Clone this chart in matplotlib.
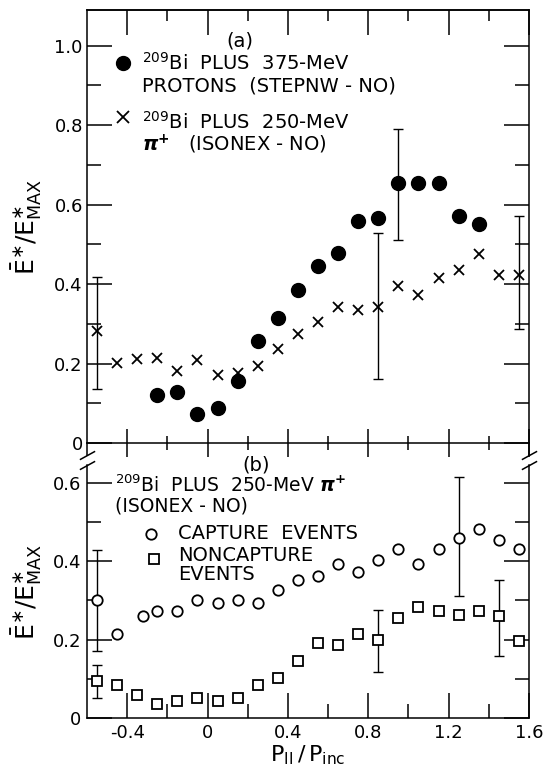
import matplotlib.pyplot as plt
import numpy as np

# ---- panel (a): 209Bi + 375-MeV protons and 250-MeV pi+ ----
x_p = [-0.25, -0.15, -0.05, 0.05, 0.15, 0.25, 0.35, 0.45, 0.55, 0.65,
       0.75, 0.85, 0.95, 1.05, 1.15, 1.25, 1.35]
y_p = [0.121, 0.128, 0.072, 0.087, 0.157, 0.257, 0.315, 0.386, 0.445, 0.479,
       0.558, 0.566, 0.655, 0.655, 0.655, 0.572, 0.552]

x_pi = [-0.55, -0.45, -0.35, -0.25, -0.15, -0.05, 0.05, 0.15, 0.25, 0.35, 0.45,
        0.55, 0.65, 0.75, 0.85, 0.95, 1.05, 1.15, 1.25, 1.35, 1.45, 1.55]
y_pi = [0.281, 0.202, 0.212, 0.214, 0.180, 0.210, 0.172, 0.175, 0.195, 0.237,
        0.274, 0.305, 0.343, 0.335, 0.342, 0.394, 0.373, 0.415, 0.436, 0.475,
        0.424, 0.424]

p_err_x = [0.95]
p_err_lo = [0.510]
p_err_hi = [0.790]
pi_err_x = [-0.55, 0.85, 1.55]
pi_err_lo = [0.137, 0.161, 0.286]
pi_err_hi = [0.418, 0.528, 0.571]

# ---- panel (b): capture / noncapture events ----
x_cap = [-0.55, -0.45, -0.32, -0.25, -0.15, -0.05, 0.05, 0.15, 0.25, 0.35, 0.45,
         0.55, 0.65, 0.75, 0.85, 0.95, 1.05, 1.15, 1.25, 1.35, 1.45, 1.55]
y_cap = [0.302, 0.214, 0.260, 0.272, 0.272, 0.300, 0.292, 0.302, 0.293, 0.327,
         0.351, 0.361, 0.392, 0.372, 0.402, 0.431, 0.392, 0.431, 0.460, 0.483,
         0.453, 0.430]

x_nc = [-0.55, -0.45, -0.35, -0.25, -0.15, -0.05, 0.05, 0.15, 0.25, 0.35, 0.45,
        0.55, 0.65, 0.75, 0.85, 0.95, 1.05, 1.15, 1.25, 1.35, 1.45, 1.55]
y_nc = [0.093, 0.085, 0.059, 0.036, 0.044, 0.052, 0.044, 0.052, 0.085, 0.103,
        0.145, 0.192, 0.186, 0.214, 0.200, 0.254, 0.283, 0.273, 0.262, 0.272,
        0.260, 0.195]

cap_err_x = [-0.55, 1.25]
cap_err_lo = [0.172, 0.312]
cap_err_hi = [0.429, 0.614]
nc_err_x = [-0.55, 0.85, 1.45]
nc_err_lo = [0.051, 0.116, 0.158]
nc_err_hi = [0.134, 0.275, 0.351]

# ---- axes ticks ----
x_major = [-0.4, 0.0, 0.4, 0.8, 1.2, 1.6]
x_minor = [-0.2, 0.2, 0.6, 1.0, 1.4]
x_labels = ['-0.4', '0', '0.4', '0.8', '1.2', '1.6']
ya_major = [0.0, 0.2, 0.4, 0.6, 0.8, 1.0]
ya_minor = [0.1, 0.3, 0.5, 0.7, 0.9]
ya_labels = ['0', '0.2', '0.4', '0.6', '0.8', '1.0']
yb_major = [0.0, 0.2, 0.4, 0.6]
yb_minor = [0.1, 0.3, 0.5]
yb_labels = ['0', '0.2', '0.4', '0.6']

YLABEL = r'$\bar{\mathrm{E}}^{\ast}/\mathrm{E}^{\ast}_{\mathrm{MAX}}$'
LW = 1.1
TXT = 14


def add_errbars(ax, xs, ys, ex, lo, hi):
    """vertical error bars centred on the series points at positions ex"""
    xs = np.asarray(xs)
    ys = np.asarray(ys)
    yc = np.array([ys[np.isclose(xs, v)][0] for v in ex])
    ax.errorbar(ex, yc, yerr=[yc - np.asarray(lo), np.asarray(hi) - yc],
                fmt='none', ecolor='k', elinewidth=1.0, capsize=3.5,
                capthick=1.0, zorder=2)


def slash(ax, x, y):
    ax.plot([x], [y], marker=[(-1, -0.55), (1, 0.55)], markersize=11,
            color='k', mec='k', mew=1.1, linestyle='none',
            transform=ax.get_yaxis_transform(), clip_on=False)


fig = plt.figure(figsize=(5.45, 7.66), dpi=100)
ax_a = fig.add_axes([0.1596, 0.4217, 0.811, 0.5653])
ax_b = fig.add_axes([0.1596, 0.0627, 0.811, 0.3303])

# panel (a)
add_errbars(ax_a, x_p, y_p, p_err_x, p_err_lo, p_err_hi)
add_errbars(ax_a, x_pi, y_pi, pi_err_x, pi_err_lo, pi_err_hi)
ax_a.plot(x_pi, y_pi, 'x', color='k', ms=7, mew=1.3, zorder=3)
ax_a.plot(x_p, y_p, 'o', color='k', ms=10, zorder=4)

ax_a.set_xlim(-0.6, 1.6)
ax_a.set_ylim(0, 1.09)
ax_a.set_xticks(x_major)
ax_a.set_xticks(x_minor, minor=True)
ax_a.set_yticks(ya_major, labels=ya_labels)
ax_a.set_yticks(ya_minor, minor=True)
ax_a.tick_params(axis='y', which='both', direction='in', left=True,
                 right=True, width=LW, labelsize=13, pad=3)
ax_a.tick_params(axis='y', which='major', length=18)
ax_a.tick_params(axis='y', which='minor', length=10)
ax_a.tick_params(axis='x', which='both', direction='inout', bottom=True,
                 top=False, labelbottom=False, width=LW)
ax_a.tick_params(axis='x', which='major', length=20)
ax_a.tick_params(axis='x', which='minor', length=10)
for s in ax_a.spines.values():
    s.set_linewidth(LW)

sec = ax_a.secondary_xaxis('top')
sec.set_xticks(x_major)
sec.set_xticks(x_minor, minor=True)
sec.tick_params(axis='x', which='both', direction='in', width=LW,
                labeltop=False, labelbottom=False)
sec.tick_params(axis='x', which='major', length=18)
sec.tick_params(axis='x', which='minor', length=8)
sec.spines['top'].set_linewidth(LW)

# spines run a little below zero before the break
for xa in (0, 1):
    ax_a.plot([xa, xa], [0, -0.03], color='k', lw=LW,
              transform=ax_a.get_yaxis_transform(), clip_on=False)
    slash(ax_a, xa, -0.03)

ax_a.text(0.16, 1.013, '(a)', fontsize=TXT, ha='center', va='center')
ax_a.plot([0.082], [0.877], 'o', color='k', ms=10, transform=ax_a.transAxes)
ax_a.text(0.125, 0.877, r'$^{209}$Bi  PLUS  375-MeV', fontsize=TXT,
          ha='left', va='center', transform=ax_a.transAxes)
ax_a.text(0.125, 0.824, 'PROTONS  (STEPNW - NO)', fontsize=TXT,
          ha='left', va='center', transform=ax_a.transAxes)
ax_a.plot([0.081], [0.752], 'x', color='k', ms=9, mew=1.3,
          transform=ax_a.transAxes)
ax_a.text(0.125, 0.742, r'$^{209}$Bi  PLUS  250-MeV', fontsize=TXT,
          ha='left', va='center', transform=ax_a.transAxes)
ax_a.text(0.125, 0.690, r'$\boldsymbol{\pi}^{\mathbf{+}}$   (ISONEX - NO)',
          fontsize=TXT, ha='left', va='center', transform=ax_a.transAxes)

ax_a.set_ylabel(YLABEL, fontsize=18)
ax_a.yaxis.set_label_coords(-0.097, 0.5)

# panel (b)
add_errbars(ax_b, x_cap, y_cap, cap_err_x, cap_err_lo, cap_err_hi)
add_errbars(ax_b, x_nc, y_nc, nc_err_x, nc_err_lo, nc_err_hi)
ax_b.plot(x_cap, y_cap, 'o', color='k', mfc='white', ms=7.5, mew=1.3,
          zorder=3)
ax_b.plot(x_nc, y_nc, 's', color='k', mfc='white', ms=7.5, mew=1.3,
          zorder=3)

ax_b.set_xlim(-0.6, 1.6)
ax_b.set_ylim(0, 0.645)
ax_b.set_xticks(x_major, labels=x_labels)
ax_b.set_xticks(x_minor, minor=True)
ax_b.set_yticks(yb_major, labels=yb_labels)
ax_b.set_yticks(yb_minor, minor=True)
ax_b.spines['top'].set_visible(False)
for s in ax_b.spines.values():
    s.set_linewidth(LW)
ax_b.tick_params(axis='both', which='both', direction='in', left=True,
                 right=True, bottom=True, top=False, width=LW,
                 labelsize=13, pad=4)
ax_b.tick_params(axis='both', which='major', length=18)
ax_b.tick_params(axis='both', which='minor', length=10)
for xa in (0, 1):
    slash(ax_b, xa, 0.645)

ax_b.text(0.382, 0.998, '(b)', fontsize=TXT, ha='center', va='center',
          transform=ax_b.transAxes)
ax_b.text(0.064, 0.921,
          r'$^{209}$Bi  PLUS  250-MeV $\boldsymbol{\pi}^{\mathbf{+}}$',
          fontsize=13.5, ha='left', va='center', transform=ax_b.transAxes)
ax_b.text(0.064, 0.836, '(ISONEX - NO)', fontsize=13.5, ha='left',
          va='center', transform=ax_b.transAxes)
ax_b.plot([0.145], [0.729], 'o', color='k', mfc='white', ms=7.5, mew=1.3,
          transform=ax_b.transAxes)
ax_b.text(0.205, 0.729, 'CAPTURE  EVENTS', fontsize=TXT, ha='left',
          va='center', transform=ax_b.transAxes)
ax_b.plot([0.151], [0.630], 's', color='k', mfc='white', ms=7.5, mew=1.3,
          transform=ax_b.transAxes)
ax_b.text(0.207, 0.642, 'NONCAPTURE', fontsize=TXT, ha='left',
          va='center', transform=ax_b.transAxes)
ax_b.text(0.207, 0.567, 'EVENTS', fontsize=TXT, ha='left',
          va='center', transform=ax_b.transAxes)

ax_b.set_ylabel(YLABEL, fontsize=18)
ax_b.yaxis.set_label_coords(-0.097, 0.5)
ax_b.set_xlabel(r'$\mathrm{P}_{\mathrm{II}}\,/\,\mathrm{P}_{\mathrm{inc}}$',
                fontsize=16, labelpad=1)

fig.savefig('out.png', dpi=100)
